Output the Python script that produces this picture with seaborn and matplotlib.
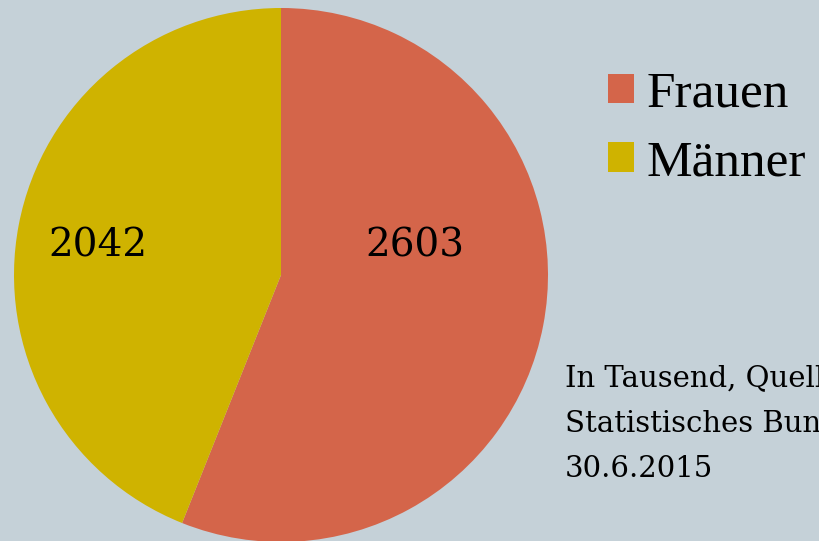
import seaborn as sns
import matplotlib.pyplot as plt

# Bevölkerung nach Geschlecht (in Tausend)
labels = ["Frauen", "Männer"]
values = [2603, 2042]
colors = ["#D4654A", "#CFB300"]
note = "In Tausend, Quelle:\nStatistisches Bundesamt,\n30.6.2015"

bg = "#C5D1D8"
sns.set_theme(style="white", rc={"figure.facecolor": bg, "axes.facecolor": bg})

fig = plt.figure(figsize=(8.2, 5.41), dpi=100)
ax = fig.add_axes([14 / 820, -1 / 541, 534 / 820, 534 / 541])

wedges, _ = ax.pie(values, colors=colors, startangle=90, counterclock=False,
                   radius=1, wedgeprops=dict(linewidth=0))
ax.set_xlim(-1, 1)
ax.set_ylim(-1, 1)
ax.set_aspect("equal")
ax.axis("off")

# value labels
label_pos = [(0.50, 0.11), (-0.685, 0.11)]
for (x, y), v in zip(label_pos, values):
    ax.text(x, y, str(v), ha="center", va="center", fontsize=28,
            family="DejaVu Serif", color="black")

leg = fig.legend(wedges, labels, loc="upper left",
                 bbox_to_anchor=(608 / 820, 1 - 71 / 541),
                 frameon=False, handlelength=0.5, handleheight=0.5,
                 handletextpad=0.25, labelspacing=0.43,
                 borderpad=0, borderaxespad=0, labelcolor="black",
                 prop={"family": "Liberation Serif", "size": 37})

fig.text(565 / 820, 1 - 364 / 541, note, ha="left", va="top",
         fontsize=21, family="DejaVu Serif", linespacing=1.8, color="black")

fig.savefig("out.png", dpi=100, facecolor=bg)
